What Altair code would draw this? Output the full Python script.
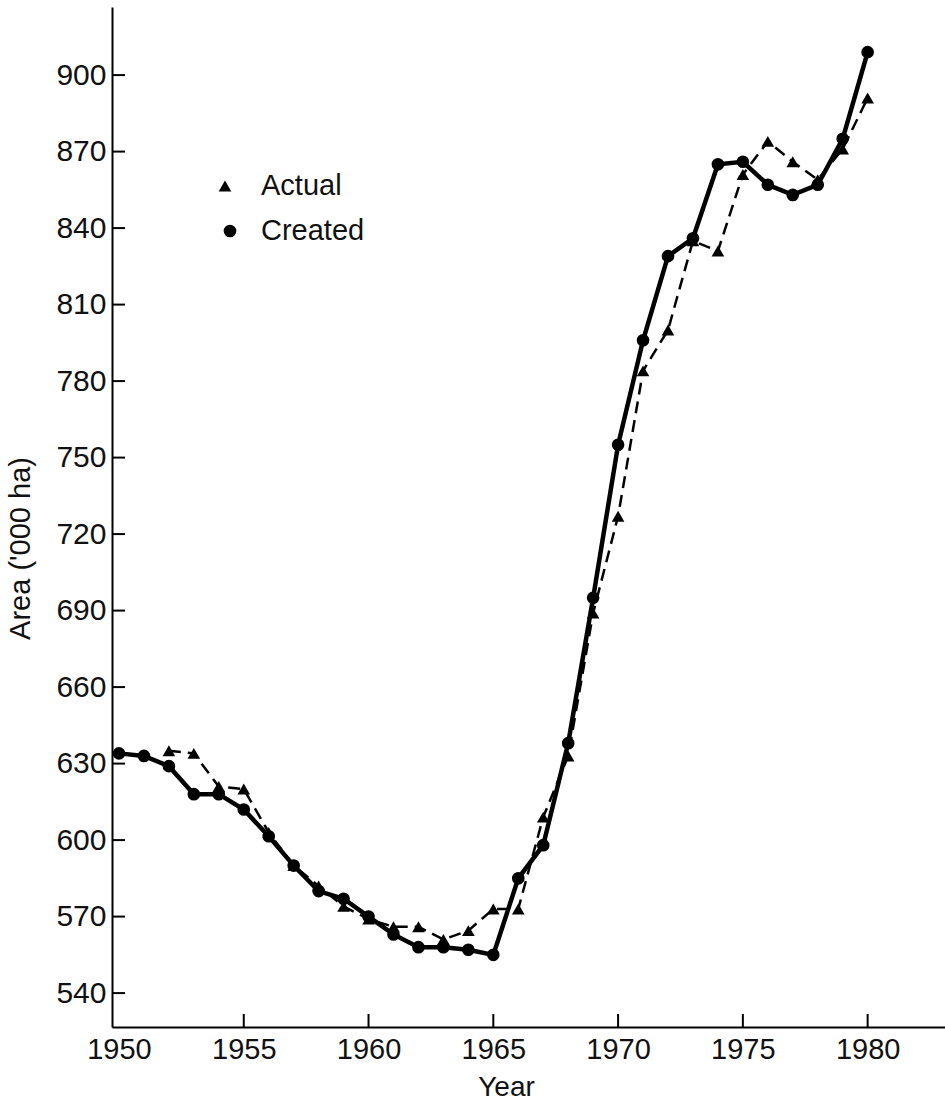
import altair as alt
import pandas as pd

# ---- data ----
years_created = list(range(1950, 1981))
created = [634, 633, 629, 618, 618, 612, 601.5, 590, 580, 577,
           570, 563, 558, 558, 557, 555, 585, 598, 638, 695,
           755, 796, 829, 836, 865, 866, 857, 853, 857, 875, 909]
years_actual = list(range(1952, 1981))
actual = [635, 634, 621, 620, 603, 590, 582, 574, 569, 566,
          566, 561, 564.5, 573, 573, 609, 633, 689, 727, 784,
          800, 835, 831, 861, 874, 866, 859, 871, 891]

x_tick_labels = [1950, 1955, 1960, 1965, 1970, 1975, 1980]
x_tick_marks = [1955, 1960, 1965, 1970, 1975, 1980]
y_tick_labels = [540, 570, 600, 630, 660, 690, 720, 750, 780, 810, 840, 870, 900]
legend_labels = ["Actual", "Created"]

FONT = "Liberation Sans"
W, H = 833, 1020

df_c = pd.DataFrame({"year": years_created, "value": created})
df_a = pd.DataFrame({"year": years_actual, "value": actual})

xscale = alt.Scale(domain=[1949.72, 1983.1], nice=False, zero=False)
yscale = alt.Scale(domain=[526.7, 926.7], nice=False, zero=False)

x_axis = alt.Axis(values=x_tick_labels, format="d", ticks=False, tickSize=0,
                  labelPadding=8, labelFontSize=29, labelFont=FONT, labelColor="#111",
                  labelFlush=False, grid=False, domainColor="black", domainWidth=2,
                  title="Year", titleFont=FONT, titleFontSize=28, titleFontWeight="normal",
                  titleColor="#111", titleX=394, titleY=60, titleBaseline="middle")
y_axis = alt.Axis(values=y_tick_labels, ticks=False, tickSize=0,
                  labelPadding=6, labelFontSize=30, labelFont=FONT, labelColor="#111",
                  grid=False, domainColor="black", domainWidth=2,
                  title="Area ('000 ha)", titleFont=FONT, titleFontSize=29,
                  titleFontWeight="normal", titleColor="#111",
                  titleX=-92, titleY=541, titleAngle=270, titleBaseline="middle",
                  titleAlign="center")

base_x = alt.X("year:Q", scale=xscale, axis=x_axis)
base_y = alt.Y("value:Q", scale=yscale, axis=y_axis)

actual_line = alt.Chart(df_a).mark_line(color="black", strokeWidth=2.5,
                                        strokeDash=[12, 7]).encode(x=base_x, y=base_y)
actual_pts = alt.Chart(df_a).mark_point(shape="triangle-up", filled=True, color="black",
                                        opacity=1, size=160).encode(x=base_x, y=base_y)
created_line = alt.Chart(df_c).mark_line(color="black", strokeWidth=4.5).encode(x=base_x, y=base_y)
created_pts = alt.Chart(df_c).mark_point(shape="circle", filled=True, color="black",
                                         opacity=1, size=160).encode(x=base_x, y=base_y)

# inward tick marks
ytick_df = pd.DataFrame({"value": y_tick_labels})
ytick = alt.Chart(ytick_df).mark_rule(color="black", strokeWidth=2).encode(
    y=base_y, x=alt.value(0), x2=alt.value(13))
xtick_df = pd.DataFrame({"year": x_tick_marks})
xtick = alt.Chart(xtick_df).mark_rule(color="black", strokeWidth=2).encode(
    x=base_x, y=alt.value(H), y2=alt.value(H - 13))

# legend
leg_a = pd.DataFrame({"label": [legend_labels[0]]})
leg_c = pd.DataFrame({"label": [legend_labels[1]]})
leg_tri = alt.Chart(leg_a).mark_point(shape="triangle-up", filled=True, color="black",
                                      opacity=1, size=160).encode(x=alt.value(113), y=alt.value(179))
leg_cir = alt.Chart(leg_c).mark_point(shape="circle", filled=True, color="black",
                                      opacity=1, size=160).encode(x=alt.value(118), y=alt.value(224))
leg_ta = alt.Chart(leg_a).mark_text(align="left", baseline="middle", font=FONT, fontSize=29,
                                    color="#111").encode(x=alt.value(149), y=alt.value(179), text="label:N")
leg_tc = alt.Chart(leg_c).mark_text(align="left", baseline="middle", font=FONT, fontSize=29,
                                    color="#111").encode(x=alt.value(149), y=alt.value(224), text="label:N")

chart = alt.layer(actual_line, actual_pts, created_line, created_pts, ytick, xtick,
                  leg_tri, leg_cir, leg_ta, leg_tc).properties(
    width=W, height=H,
    padding={"left": 112, "top": 7, "right": 0, "bottom": 74},
    autosize=alt.AutoSizeParams(type="none"),
    background="white",
).configure_view(stroke=None)

chart.save("out.html", embed_options={"renderer": "svg", "actions": False})
